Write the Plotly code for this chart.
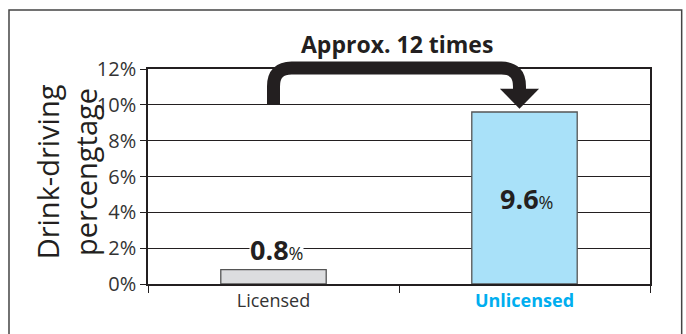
import plotly.graph_objects as go

# Data
categories = ["Licensed", "Unlicensed"]
values = [0.8, 9.6]
bar_colors = ["#dcdddf", "#a9e1f9"]
tick_labels = ["Licensed", "<b><span style='color:#00aeef'>Unlicensed</span></b>"]
y_ticks = [0, 2, 4, 6, 8, 10, 12]
y_tick_text = [f"{v}%" for v in y_ticks]
ratio_label = "Approx. 12 times"

Y_MAX = 12
INK = "#231f20"
FONT = "Open Sans, Liberation Sans, sans-serif"

fig = go.Figure()
fig.add_trace(go.Bar(
    x=categories, y=values,
    marker=dict(color=bar_colors, line=dict(color="#555555", width=1.3)),
    width=0.42,
    hoverinfo="skip",
))

# Value labels
label_font = dict(family=FONT, size=27, color=INK)
fig.add_annotation(
    x=categories[0], y=2, yshift=-1, xshift=3,
    text=f"<b>{values[0]}</b><span style='font-size:18px'>%</span>",
    showarrow=False, font=label_font, bgcolor="white", borderpad=0,
)
fig.add_annotation(
    x=categories[1], y=values[1] / 2, xshift=2,
    text=f"<b>{values[1]}</b><span style='font-size:18px'>%</span>",
    showarrow=False, font=label_font,
)

# Helpers to map data coordinates into paper coordinates
def px_x(i):
    return (i + 0.5) / len(categories)

def px_y(v):
    return v / Y_MAX

# Bent arrow from the Licensed bar to the Unlicensed bar
x0, x1 = px_x(0), px_x(0.98)
y_start, y_top, y_end = px_y(10), px_y(12.05), px_y(10.55)
rx, ry = 0.036, 0.085
arrow_path = (
    f"M {x0},{y_start} L {x0},{y_top - ry} "
    f"Q {x0},{y_top} {x0 + rx},{y_top} "
    f"L {x1 - rx},{y_top} "
    f"Q {x1},{y_top} {x1},{y_top - ry} "
    f"L {x1},{y_end}"
)
fig.add_shape(type="path", xref="paper", yref="paper", path=arrow_path,
              line=dict(color=INK, width=13), layer="above")
head_w, head_top, head_tip = 0.039, px_y(10.9), px_y(9.78)
fig.add_shape(
    type="path", xref="paper", yref="paper",
    path=f"M {x1 - head_w},{head_top} L {x1 + head_w},{head_top} L {x1},{head_tip} Z",
    fillcolor=INK, line=dict(color=INK, width=0), layer="above",
)
fig.add_annotation(
    x=0.496, y=1.2, xref="paper", yref="paper",
    text=f"<b>{ratio_label}</b>", showarrow=False,
    font=dict(family=FONT, size=23, color=INK),
)

# Y-axis title
fig.add_annotation(
    x=-0.163, y=0.52, xref="paper", yref="paper",
    xanchor="center", yanchor="middle",
    text="Drink-driving<br>percengtage", textangle=-90, showarrow=False,
    font=dict(family=FONT, size=29, color=INK),
)

# Outer frame
fig.add_shape(type="rect", xref="paper", yref="paper",
              x0=-0.2769, x1=1.0631, y0=-0.3, y1=1.274,
              line=dict(color="#444444", width=1.5), layer="below")

fig.update_layout(
    width=686, height=334,
    margin=dict(l=148, r=36, t=69, b=50),
    paper_bgcolor="white", plot_bgcolor="white",
    showlegend=False,
    font=dict(family=FONT, color=INK),
)
fig.update_xaxes(
    type="category", range=[-0.5, 1.5],
    tickvals=categories, ticktext=tick_labels,
    tickson="boundaries", ticks="outside", ticklen=7, tickwidth=1.3, tickcolor=INK,
    showline=True, linecolor=INK, linewidth=1.5, mirror=True,
    showgrid=False, tickfont=dict(size=18, color="#333333"),
)
fig.update_yaxes(
    range=[0, Y_MAX], tickvals=y_ticks, ticktext=y_tick_text,
    ticks="outside", ticklen=6, tickwidth=1.3, tickcolor=INK,
    showline=True, linecolor=INK, linewidth=1.5, mirror=True,
    showgrid=True, gridcolor=INK, gridwidth=1.3, zeroline=False,
    tickfont=dict(size=20, color="#333333"),
)

fig.write_html("out.html")
